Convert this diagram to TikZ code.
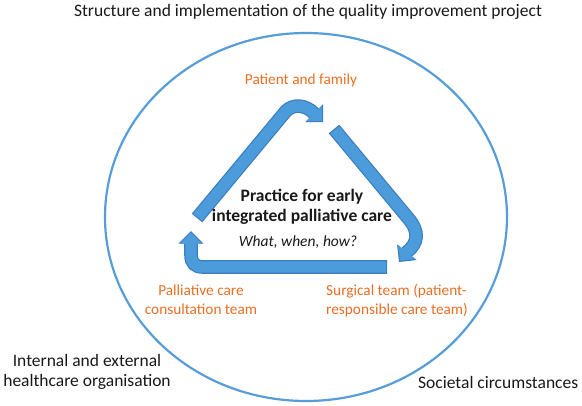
\documentclass[tikz,border=0pt]{standalone}
\usepackage{fontspec}
\setmainfont{Carlito}
\usepackage{tikz}
\usetikzlibrary{arrows.meta}
\usepackage{xcolor}
\definecolor{ringblue}{RGB}{86,157,217}
\definecolor{loopblue}{RGB}{76,155,218}
\definecolor{loopedge}{RGB}{58,126,192}
\definecolor{teamorange}{RGB}{232,110,35}
\definecolor{inkblack}{RGB}{25,25,25}

\begin{document}
\begin{tikzpicture}[x=1pt, y=-1pt,
  ctxtext/.style={text=inkblack, font=\fontsize{17.5}{20.5}\selectfont, align=center, inner sep=0pt},
  partytext/.style={text=teamorange, font=\fontsize{15.3}{19}\selectfont, align=center, inner sep=0pt},
  coretext/.style={text=inkblack, font=\fontsize{17.5}{20.5}\selectfont\bfseries, align=center, inner sep=0pt},
  loopback/.style={draw=loopedge, line width=13.6pt, -{Triangle[length=12.5pt, width=25pt, line width=0pt]}},
  loopfront/.style={draw=loopblue, line width=11.2pt, shorten <=1.2pt, shorten >=1.7pt, -{Triangle[length=10.8pt, width=21.6pt, line width=0pt]}}]
  \useasboundingbox (0,0) rectangle (582,405);
  \draw[ringblue, line width=2.2pt] (306,217) ellipse [x radius=201pt, y radius=184pt];
  \coordinate (up0) at (197,218);
  \coordinate (up1) at (323,122);
  \coordinate (down0) at (334,129);
  \coordinate (down1) at (399,262);
  \coordinate (back0) at (387,267);
  \coordinate (back1) at (191,231);
  \foreach \layer in {loopback, loopfront} {
    \draw[\layer] (up0) -- (286,111) .. controls (293,104) and (305,104) .. (315,114) -- (up1);
    \draw[\layer] (down0) -- (408,218) .. controls (420,232) and (418,243) .. (407,252) -- (down1);
    \draw[\layer] (back0) -- (203,267) .. controls (195,267) and (191,263) .. (191,255) -- (back1);
  }
  \node[ctxtext] (project) at (308,12) {Structure and implementation of the quality improvement project};
  \node[partytext] (patient) at (301,80) {Patient and family};
  \node[coretext] (practice) at (302,207) {Practice for early\\integrated palliative care};
  \node[coretext, font=\fontsize{15.5}{19}\selectfont\itshape] (question) at (298,242) {What, when, how?};
  \node[partytext] (consult) at (201,300) {Palliative care\\consultation team};
  \node[partytext, anchor=west, align=left] (surgical) at (326,301) {Surgical team (patient-\\responsible care team)};
  \node[ctxtext] (organisation) at (87,372) {Internal and external\\healthcare organisation};
  \node[ctxtext, anchor=west] (society) at (418,382) {Societal circumstances};
\end{tikzpicture}
\end{document}
